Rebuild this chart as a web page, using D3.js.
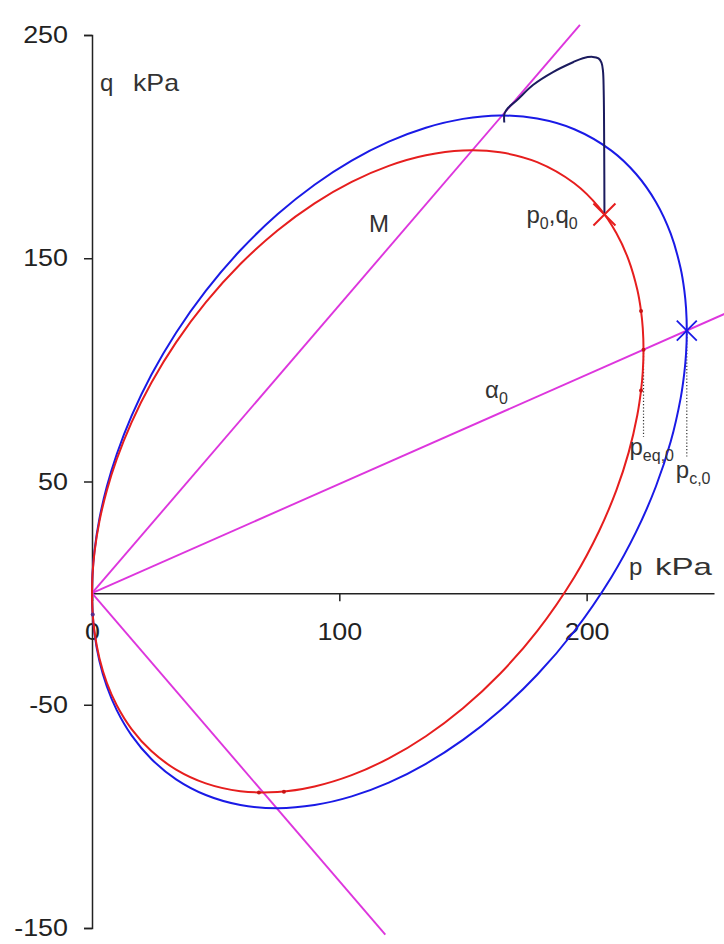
<!DOCTYPE html>
<html>
<head>
<meta charset="utf-8">
<script src="https://cdn.jsdelivr.net/npm/d3@7/dist/d3.min.js"></script>
<style>
  html, body { margin: 0; padding: 0; background: #fff; }
  svg { display: block; font-family: "Liberation Sans", Arial, sans-serif; }
</style>
</head>
<body>
<svg id="chart" width="724" height="944"></svg>
<script>
// Yield surfaces in p-q space (kPa): outer surface (blue) and equilibrium surface (red)
const outerSurface = [
  [0,0],[0.2,8.38],[1,18.96],[3,33.33],[6,47.71],[10,62.20],[16,79.37],[24,97.79],[34,116.65],
  [46,135.40],[60,153.57],[75,169.68],[90,182.94],[105,193.74],[120,202.23],[135,208.48],
  [150,212.43],[165,213.93],[180,212.59],[195,207.80],[210,198.23],[220,187.75],[228,175.22],
  [234,160.99],[238,145.50],[239.5,135.59],[240.2,127.59],[240.5,117.6],[240.2,107.33],
  [239.5,98.65],[238,87.26],[234,67.87],[228,47.76],[220,27.41],[210,7.15],[195,-17.08],
  [180,-36.55],[165,-52.55],[150,-65.73],[135,-76.44],[120,-84.87],[105,-91.04],[90,-94.92],
  [75,-96.32],[60,-94.89],[46,-90.42],[34,-83.40],[24,-74.31],[16,-63.72],[10,-52.42],
  [6,-41.84],[3,-30.40],[1,-17.98],[0.2,-8.18],[0,0]
];
const equilibriumSurface = [
  [0,0],[0.2,8.07],[1,18.28],[3,32.13],[6,46.01],[10,59.98],[16,76.52],[24,94.24],[34,112.32],
  [46,130.20],[60,147.39],[75,162.45],[90,174.61],[105,184.23],[120,191.39],[135,196.13],
  [150,198.27],[165,197.47],[180,193.04],[195,183.57],[205,172.76],[212,161.32],[217,149.18],
  [220.5,135.85],[222,126.35],[222.7,118.66],[223,109.05],[222.7,99.14],[222,90.77],
  [220.5,79.79],[217,63.04],[212,46.02],[205,27.74],[195,7.15],[180,-17.00],[165,-36.09],
  [150,-51.57],[135,-64.09],[120,-74.03],[105,-81.53],[90,-86.59],[75,-89.09],[60,-88.71],
  [46,-85.22],[34,-79.06],[24,-70.76],[16,-60.88],[10,-50.20],[6,-40.14],[3,-29.20],
  [1,-17.30],[0.2,-7.87],[0,0]
];
// Dots recorded along the equilibrium surface
const equilibriumDots = [[222,126.35],[223,109.05],[222,90.77],[77.6,-89],[67.5,-89.3],[0.3,-9.6]];

// Stress path from the initial state (p0, q0) to the outer surface
const stressPath = [
  [207.2,169.6],[207.1,200],[206.9,225],[206.6,234],[206.0,237.6],[204.8,239.5],[202.5,240.2],
  [198.5,239.6],[194.5,237.8],[186.4,233.4],[178.3,227.6],[171.9,220.9],[168.2,217.3],
  [166.8,214.8],[166.7,210.8]
];

// Reference lines through the origin: critical state (M), -M and the rotation axis alpha0
const lineM = [[0,0],[197.3,254.5]];
const lineMinusM = [[0,0],[118.6,-153]];
const lineAlpha = [[0,0],[256,125.2]];

// Key states
const initialState = [207.2,169.6];   // p0, q0
const outerTip = [240.5,117.6];       // pc,0
const equilibriumTip = [223,109.05];  // peq,0
const pc0DropTo = 61;
const peq0DropTo = 70;

// Axis ticks
const pTicks = [0,100,200];
const qTicks = [250,150,50,-50,-150];

const svg = d3.select("#chart");
const x = d3.scaleLinear().domain([0, 251.5]).range([92, 714]);
const y = d3.scaleLinear().domain([-150, 250]).range([928, 35]);

const BLUE = "#1a1ae6", RED = "#e61e1e", MAGENTA = "#dd36dd", NAVY = "#1b1b5e", INK = "#222";

const line = d3.line().x(d => x(d[0])).y(d => y(d[1]));
const smooth = d3.line().x(d => x(d[0])).y(d => y(d[1])).curve(d3.curveCatmullRom.alpha(0.5));

// Axes
const gy = svg.append("g").attr("transform", `translate(${x(0)},0)`)
  .call(d3.axisLeft(y).tickValues(qTicks).tickSize(8).tickSizeOuter(8).tickPadding(16));
const gx = svg.append("g").attr("transform", `translate(0,${y(0)})`)
  .call(d3.axisBottom(x).tickValues(pTicks).tickSize(8).tickSizeOuter(0).tickPadding(22));
[gy, gx].forEach(g => {
  g.select(".domain").attr("stroke", INK).attr("stroke-width", 1.5);
  g.selectAll(".tick line").attr("stroke", INK).attr("stroke-width", 1.5);
  g.selectAll(".tick text").attr("fill", INK).attr("font-size", 24)
    .attr("font-family", "'Liberation Sans', Arial, sans-serif");
});
gy.selectAll(".tick text").text(d => d);
// slightly wide numerals
svg.selectAll(".tick text").each(function() {
  const w = this.getComputedTextLength();
  d3.select(this).attr("textLength", w * 1.12).attr("lengthAdjust", "spacingAndGlyphs");
});

// Reference lines
[lineM, lineMinusM, lineAlpha].forEach(l => {
  svg.append("path").attr("d", line(l)).attr("fill", "none")
    .attr("stroke", MAGENTA).attr("stroke-width", 1.9);
});

// Dotted drop lines for peq,0 and pc,0
svg.append("path").attr("d", line([equilibriumTip, [equilibriumTip[0], peq0DropTo]]))
  .attr("stroke", "#333").attr("stroke-width", 1.2).attr("stroke-dasharray", "1.2,2");
svg.append("path").attr("d", line([outerTip, [outerTip[0], pc0DropTo]]))
  .attr("stroke", "#333").attr("stroke-width", 1.2).attr("stroke-dasharray", "1.2,2");

// Surfaces
svg.append("path").attr("d", smooth(outerSurface)).attr("fill", "none")
  .attr("stroke", BLUE).attr("stroke-width", 2);
svg.append("path").attr("d", smooth(equilibriumSurface)).attr("fill", "none")
  .attr("stroke", RED).attr("stroke-width", 2);
svg.selectAll(".eqdot").data(equilibriumDots).join("circle")
  .attr("cx", d => x(d[0])).attr("cy", d => y(d[1])).attr("r", 2)
  .attr("fill", (d, i) => i === equilibriumDots.length - 1 ? "#5a2a8a" : "#c81414");

// Stress path
svg.append("path").attr("d", smooth(stressPath)).attr("fill", "none")
  .attr("stroke", NAVY).attr("stroke-width", 2);

// Markers
const xMark = r => d3.symbol().type(d3.symbolX).size((r / 0.6189) ** 2 + 1.7)();
svg.append("path").attr("d", xMark(11))
  .attr("transform", `translate(${x(initialState[0])},${y(initialState[1])})`)
  .attr("fill", "none").attr("stroke", RED).attr("stroke-width", 2);
svg.append("path").attr("d", xMark(10))
  .attr("transform", `translate(${x(outerTip[0])},${y(outerTip[1])})`)
  .attr("fill", "none").attr("stroke", BLUE).attr("stroke-width", 1.8);

// Labels
const TXT = "#333";
function label(px, py, parts, width) {
  const t = svg.append("text").attr("x", px).attr("y", py).attr("fill", TXT).attr("font-size", 24);
  let shift = 0;
  parts.forEach(([s, sub]) => {
    const target = sub ? 6 : 0;
    t.append("tspan").text(s).attr("font-size", sub ? 16 : 24).attr("dy", target - shift);
    shift = target;
  });
  if (width) t.attr("textLength", width).attr("lengthAdjust", "spacingAndGlyphs");
  return t;
}
// axis titles
label(100, 91, [["q", false]]);
label(133, 91, [["kPa", false]], 46);
label(629, 575, [["p", false]]);
label(655, 575, [["kPa", false]], 57);
// line and state annotations
label(x(lineM[1][0]) - 211, y(lineM[1][1]) + 207, [["M", false]]);
label(x(initialState[0]) - 78, y(initialState[1]) + 9, [["p", false], ["0", true], [",", false], ["q", false], ["0", true]]);
label(485, 398, [["α", false], ["0", true]]);
label(x(equilibriumTip[0]) - 14, y(pc0DropTo) - 2, [["p", false], ["eq,0", true]]);
label(x(outerTip[0]) - 11, y(pc0DropTo) + 21, [["p", false], ["c,0", true]]);
</script>
</body>
</html>
